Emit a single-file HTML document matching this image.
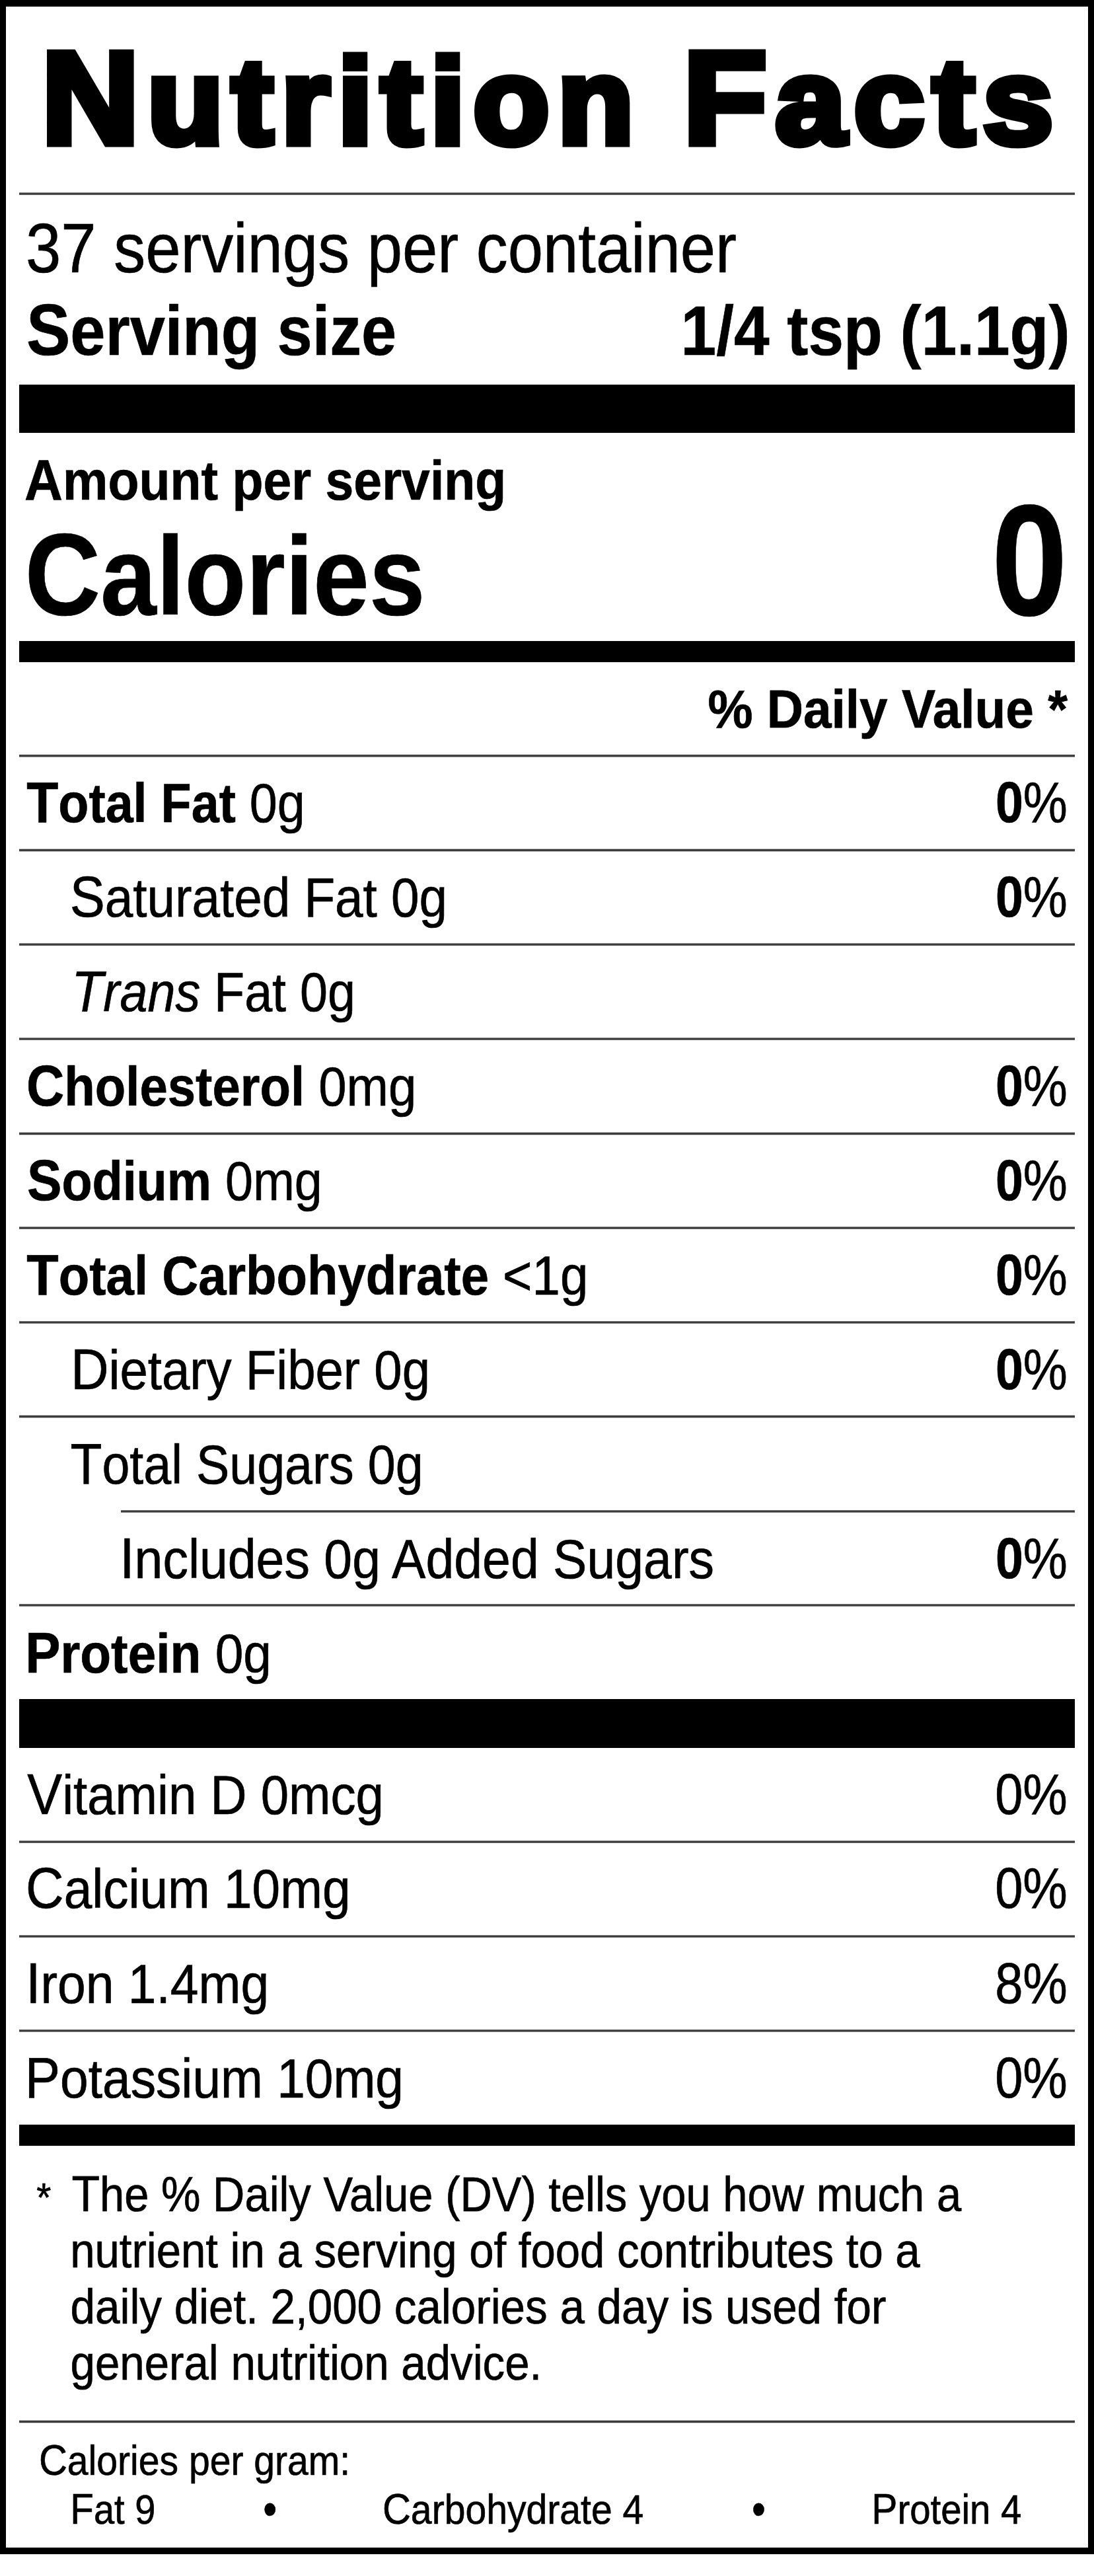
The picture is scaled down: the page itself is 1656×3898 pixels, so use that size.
<!DOCTYPE html>
<html lang="en">
<head>
<meta charset="utf-8">
<title>Nutrition Facts</title>
<style>
html,body{margin:0;padding:0;background:#fff}
html{width:1656px;height:3898px}
body{width:1656px;height:3898px;position:relative;font-family:"Liberation Sans",Arial,Helvetica,sans-serif;color:#000}
.label{position:absolute;left:0;top:0;width:1656px;height:3898px;overflow:hidden;background:#fff}
.t{position:absolute;left:0;top:0;white-space:nowrap;line-height:1;transform-origin:0 0;font-weight:400;margin:0;-webkit-text-stroke:0.7px #000}
.t.b,.t b{font-weight:700}
.t i{font-style:italic}
.ttl{-webkit-text-stroke:11px #000;paint-order:stroke fill;letter-spacing:12px}
.ttl::first-letter{font-size:199.3px}
.fl::first-letter{font-size:104.2%}
.r{position:absolute;background:#000}
.h{position:absolute;height:8px}
</style>
</head>
<body>
<div class="label">
<div class="r" style="left:0px;top:0px;width:1656px;height:10px;background:#000"></div>
<div class="r" style="left:0px;top:3855px;width:1656px;height:10px;background:#000"></div>
<div class="r" style="left:0px;top:0px;width:9px;height:3865px;background:#000"></div>
<div class="r" style="left:1647px;top:0px;width:9px;height:3865px;background:#000"></div>
<div class="r" style="left:29px;top:582px;width:1598px;height:73px;background:#000"></div>
<div class="r" style="left:29px;top:970px;width:1598px;height:32px;background:#000"></div>
<div class="r" style="left:29px;top:2571px;width:1598px;height:74px;background:#000"></div>
<div class="r" style="left:29px;top:3215px;width:1598px;height:32px;background:#000"></div>
<div class="h" style="left:29px;top:289px;width:1598px;background:linear-gradient(to bottom,rgba(60,60,60,0) 1.8px,#3c3c3c 3.1px,#3c3c3c 5.3px,rgba(60,60,60,0) 6.6px)"></div>
<div class="h" style="left:29px;top:1139px;width:1598px;background:linear-gradient(to bottom,rgba(60,60,60,0) 2.3px,#3c3c3c 3.6px,#3c3c3c 5.8px,rgba(60,60,60,0) 7.1px)"></div>
<div class="h" style="left:29px;top:1282px;width:1598px;background:linear-gradient(to bottom,rgba(60,60,60,0) 2.1px,#3c3c3c 3.4px,#3c3c3c 5.6px,rgba(60,60,60,0) 6.9px)"></div>
<div class="h" style="left:29px;top:1425px;width:1598px;background:linear-gradient(to bottom,rgba(60,60,60,0) 1.8px,#3c3c3c 3.1px,#3c3c3c 5.3px,rgba(60,60,60,0) 6.6px)"></div>
<div class="h" style="left:29px;top:1568px;width:1598px;background:linear-gradient(to bottom,rgba(60,60,60,0) 1.7px,#3c3c3c 3.0px,#3c3c3c 5.2px,rgba(60,60,60,0) 6.5px)"></div>
<div class="h" style="left:29px;top:1711px;width:1598px;background:linear-gradient(to bottom,rgba(60,60,60,0) 2.0px,#3c3c3c 3.3px,#3c3c3c 5.5px,rgba(60,60,60,0) 6.8px)"></div>
<div class="h" style="left:29px;top:1854px;width:1598px;background:linear-gradient(to bottom,rgba(60,60,60,0) 1.7px,#3c3c3c 3.0px,#3c3c3c 5.2px,rgba(60,60,60,0) 6.5px)"></div>
<div class="h" style="left:29px;top:1997px;width:1598px;background:linear-gradient(to bottom,rgba(60,60,60,0) 1.6px,#3c3c3c 2.9px,#3c3c3c 5.1px,rgba(60,60,60,0) 6.4px)"></div>
<div class="h" style="left:29px;top:2139px;width:1598px;background:linear-gradient(to bottom,rgba(60,60,60,0) 2.1px,#3c3c3c 3.4px,#3c3c3c 5.6px,rgba(60,60,60,0) 6.9px)"></div>
<div class="h" style="left:183px;top:2283px;width:1444px;background:linear-gradient(to bottom,rgba(60,60,60,0) 1.6px,#3c3c3c 2.9px,#3c3c3c 5.1px,rgba(60,60,60,0) 6.4px)"></div>
<div class="h" style="left:29px;top:2425px;width:1598px;background:linear-gradient(to bottom,rgba(60,60,60,0) 1.6px,#3c3c3c 2.9px,#3c3c3c 5.1px,rgba(60,60,60,0) 6.4px)"></div>
<div class="h" style="left:29px;top:2783px;width:1598px;background:linear-gradient(to bottom,rgba(60,60,60,0) 1.7px,#3c3c3c 3.0px,#3c3c3c 5.2px,rgba(60,60,60,0) 6.5px)"></div>
<div class="h" style="left:29px;top:2926px;width:1598px;background:linear-gradient(to bottom,rgba(60,60,60,0) 1.7px,#3c3c3c 3.0px,#3c3c3c 5.2px,rgba(60,60,60,0) 6.5px)"></div>
<div class="h" style="left:29px;top:3068px;width:1598px;background:linear-gradient(to bottom,rgba(60,60,60,0) 2.5px,#3c3c3c 3.8px,#3c3c3c 6.0px,rgba(60,60,60,0) 7.3px)"></div>
<div class="h" style="left:29px;top:3660px;width:1598px;background:linear-gradient(to bottom,rgba(60,60,60,0) 2.0px,#3c3c3c 3.3px,#3c3c3c 5.5px,rgba(60,60,60,0) 6.8px)"></div>
<div class="t b ttl" style="font-size:184.0px;transform:translate(62.89px,49.30px) scaleX(1.0262)">Nutrition</div>
<div class="t b ttl" style="font-size:184.0px;transform:translate(1034.17px,49.30px) scaleX(1.0411)">Facts</div>
<div class="t" style="font-size:105.0px;transform:translate(39.05px,323.30px) scaleX(0.9126)">37 servings per container</div>
<div class="t b fl" style="font-size:105.0px;transform:translate(39.97px,445.00px) scaleX(0.9097)">Serving size</div>
<div class="t b" style="font-size:105.0px;transform:translate(1030.59px,448.00px) scaleX(0.9176)">1/4 tsp (1.1g)</div>
<div class="t b fl" style="font-size:84.0px;transform:translate(37.07px,682.50px) scaleX(0.9161)">Amount per serving</div>
<div class="t b fl" style="font-size:169.0px;transform:translate(37.39px,780.70px) scaleX(0.9021)">Calories</div>
<div class="t b" style="font-size:238.6px;transform:translate(1500.69px,730.20px) scaleX(0.8675)">0</div>
<div class="t b" style="font-size:81.5px;transform:translate(1071.42px,1032.00px) scaleX(0.9391)">% Daily Value *</div>
<div class="t fl" style="font-size:84.0px;transform:translate(40.30px,1171.00px) scaleX(0.8989)"><b>Total Fat</b> 0g</div>
<div class="t" style="font-size:86.3px;transform:translate(1506.88px,1171.00px) scaleX(0.8731)"><b>0</b>%</div>
<div class="t fl" style="font-size:84.0px;transform:translate(105.66px,1314.00px) scaleX(0.9097)">Saturated Fat 0g</div>
<div class="t" style="font-size:86.3px;transform:translate(1506.88px,1314.00px) scaleX(0.8731)"><b>0</b>%</div>
<div class="t fl" style="font-size:84.0px;transform:translate(108.32px,1457.00px) scaleX(0.8981)"><i>Trans</i> Fat 0g</div>
<div class="t fl" style="font-size:84.0px;transform:translate(39.98px,1600.00px) scaleX(0.9064)"><b>Cholesterol</b> 0mg</div>
<div class="t" style="font-size:86.3px;transform:translate(1506.88px,1600.00px) scaleX(0.8731)"><b>0</b>%</div>
<div class="t fl" style="font-size:84.0px;transform:translate(40.90px,1743.00px) scaleX(0.8990)"><b>Sodium</b> 0mg</div>
<div class="t" style="font-size:86.3px;transform:translate(1506.88px,1743.00px) scaleX(0.8731)"><b>0</b>%</div>
<div class="t fl" style="font-size:84.0px;transform:translate(40.29px,1886.00px) scaleX(0.9060)"><b>Total Carbohydrate</b> &lt;1g</div>
<div class="t" style="font-size:86.3px;transform:translate(1506.88px,1886.00px) scaleX(0.8731)"><b>0</b>%</div>
<div class="t fl" style="font-size:84.0px;transform:translate(107.26px,2029.00px) scaleX(0.9061)">Dietary Fiber 0g</div>
<div class="t" style="font-size:86.3px;transform:translate(1506.88px,2029.00px) scaleX(0.8731)"><b>0</b>%</div>
<div class="t fl" style="font-size:84.0px;transform:translate(106.40px,2172.00px) scaleX(0.8976)">Total Sugars 0g</div>
<div class="t fl" style="font-size:84.0px;transform:translate(181.27px,2315.00px) scaleX(0.9165)">Includes 0g Added Sugars</div>
<div class="t" style="font-size:86.3px;transform:translate(1506.88px,2315.00px) scaleX(0.8731)"><b>0</b>%</div>
<div class="t fl" style="font-size:84.0px;transform:translate(38.14px,2458.00px) scaleX(0.9128)"><b>Protein</b> 0g</div>
<div class="t fl" style="font-size:84.0px;transform:translate(41.20px,2671.50px) scaleX(0.9069)">Vitamin D 0mcg</div>
<div class="t" style="font-size:86.3px;transform:translate(1506.16px,2671.50px) scaleX(0.8790)">0%</div>
<div class="t fl" style="font-size:84.0px;transform:translate(39.06px,2814.00px) scaleX(0.9111)">Calcium 10mg</div>
<div class="t" style="font-size:86.3px;transform:translate(1506.16px,2814.00px) scaleX(0.8790)">0%</div>
<div class="t fl" style="font-size:84.0px;transform:translate(39.18px,2957.50px) scaleX(0.9144)">Iron 1.4mg</div>
<div class="t" style="font-size:86.3px;transform:translate(1506.16px,2957.50px) scaleX(0.8790)">8%</div>
<div class="t fl" style="font-size:84.0px;transform:translate(37.81px,3100.70px) scaleX(0.9128)">Potassium 10mg</div>
<div class="t" style="font-size:86.3px;transform:translate(1506.16px,3100.70px) scaleX(0.8790)">0%</div>
<div class="t" style="font-size:61.0px;transform:translate(55.37px,3295.00px) scaleX(0.9318)">*</div>
<div class="t fl" style="font-size:73.5px;transform:translate(108.39px,3282.00px) scaleX(0.9104)">The % Daily Value (DV) tells you how much a</div>
<div class="t" style="font-size:73.5px;transform:translate(106.24px,3369.00px) scaleX(0.9126)">nutrient in a serving of food contributes to a</div>
<div class="t" style="font-size:73.5px;transform:translate(106.55px,3454.00px) scaleX(0.9158)">daily diet. 2,000 calories a day is used for</div>
<div class="t" style="font-size:73.5px;transform:translate(106.56px,3539.30px) scaleX(0.9145)">general nutrition advice.</div>
<div class="t fl" style="font-size:63.0px;transform:translate(58.88px,3689.60px) scaleX(0.9062)">Calories per gram:</div>
<div class="t fl" style="font-size:63.0px;transform:translate(106.36px,3763.50px) scaleX(0.8884)">Fat 9</div>
<div class="t fl" style="font-size:63.0px;transform:translate(578.88px,3763.50px) scaleX(0.9067)">Carbohydrate 4</div>
<div class="t fl" style="font-size:63.0px;transform:translate(1319.23px,3763.50px) scaleX(0.8944)">Protein 4</div>
<div class="t" style="font-size:70.5px;transform:translate(398.20px,3761.70px) scaleX(0.8500)">&bull;</div>
<div class="t" style="font-size:70.5px;transform:translate(1138.10px,3761.70px) scaleX(0.8500)">&bull;</div>
</div>
</body>
</html>
